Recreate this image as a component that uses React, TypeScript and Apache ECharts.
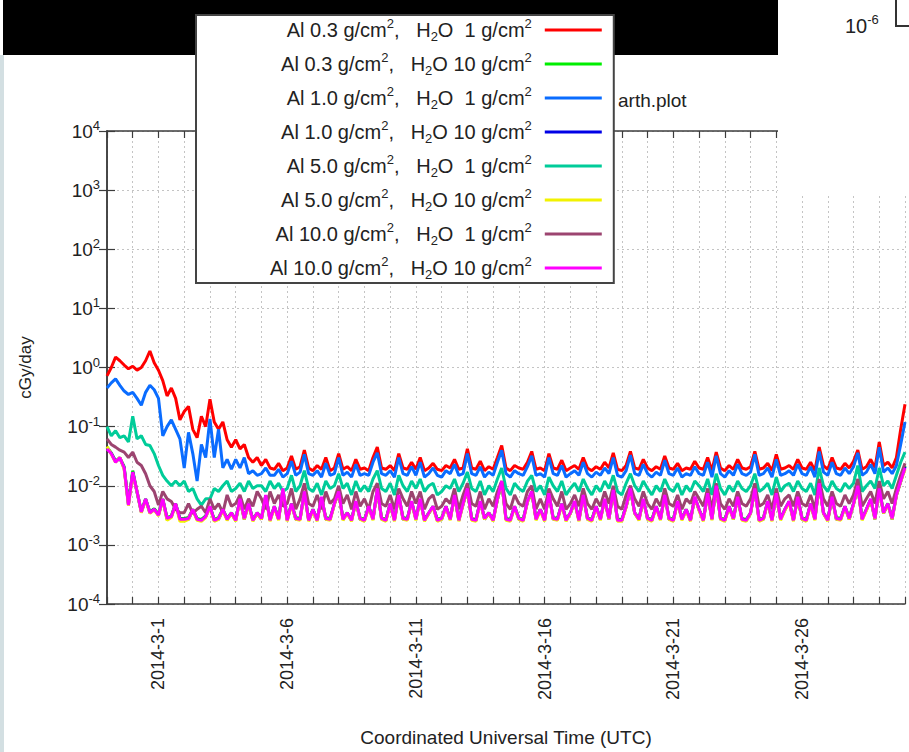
import React, { useEffect, useRef } from "react";
import * as echarts from "echarts";

const FONT = "'Liberation Sans', Arial, Helvetica, sans-serif";

// x axis: days counted from 2014-02-27 00:00 UTC
const xMinDay = 0;
const xMaxDay = 31;
const xTickLabelDays = [2, 7, 12, 17, 22, 27];
const xTickLabels = ["2014-3-1", "2014-3-6", "2014-3-11", "2014-3-16", "2014-3-21", "2014-3-26"];
const yExponents = [-4, -3, -2, -1, 0, 1, 2, 3, 4];

const alThickness = ["0.3", "0.3", "1.0", "1.0", "5.0", "5.0", "10.0", "10.0"];
const h2oThickness = ["1", "10", "1", "10", "1", "10", "1", "10"];
const seriesColors = ["#ff0000", "#00ee00", "#0a6cff", "#0000e6", "#00cc99", "#f2f200", "#9c4470", "#ff00ff"];
const seriesNames = alThickness.map((a, i) => `Al ${a} g/cm², H₂O ${h2oThickness[i]} g/cm²`);

const stepDays = 1 / 6; // 4-hour samples

// cGy/day
const al03h2o1 = [
  .72, 1.0, 1.5, 1.3, 1.1, .95,
  1.05, .9, 1.0, 1.3, 1.9, 1.2,
  .9, .6, .33, .45, .3, .13,
  .18, .22, .09, .065, .15, .1,
  .29, .12, .09, .12, .06, .045,
  .06, .042, .05, .03, .025, .03,
  .022, .028, .02, .019, .024, .018,
  .02, .032, .019, .021, .04, .02,
  .018, .022, .019, .03, .018, .02,
  .035, .019, .021, .018, .028, .019,
  .02, .018, .03, .045, .02, .019,
  .022, .018, .035, .02, .019, .025,
  .019, .03, .018, .02, .024, .019,
  .018, .022, .02, .028, .019, .02,
  .042, .02, .019, .026, .018, .021,
  .019, .03, .048, .02, .018, .022,
  .02, .019, .025, .038, .019, .02,
  .018, .035, .02, .019, .027, .018,
  .02, .022, .019, .03, .02, .018,
  .021, .019, .025, .02, .036, .019,
  .018, .022, .038, .02, .019, .028,
  .02, .018, .021, .019, .032, .02,
  .019, .024, .018, .02, .019, .026,
  .02, .019, .03, .018, .037, .02,
  .018, .022, .019, .028, .02, .019,
  .021, .038, .019, .02, .024, .018,
  .034, .019, .02, .022, .019, .028,
  .02, .019, .025, .018, .045, .022,
  .019, .03, .02, .019, .024, .02,
  .026, .04, .019, .021, .028, .02,
  .055, .022, .025, .02, .03, .09, .24,
];

const al03h2o10 = [
  .045, .036, .026, .03, .021, .005,
  .018, .008, .0037, .006, .0036, .0041,
  .0033, .006, .0029, .0031, .005, .0028,
  .0028, .0029, .004, .0028, .0027, .0031,
  .0045, .0027, .0029, .004, .0028, .0035,
  .0027, .0058, .0029, .005, .0027, .0035,
  .0029, .0068, .0027, .0045, .0028, .0085,
  .0027, .005, .0029, .0028, .0078, .0027,
  .004, .0027, .0063, .0029, .0028, .005,
  .0078, .0028, .0035, .0027, .0054, .0029,
  .0027, .0045, .0028, .0085, .0029, .0027,
  .005, .0027, .0068, .0029, .0028, .0054,
  .0028, .0058, .0027, .0035, .0045, .0027,
  .0029, .0045, .0028, .0068, .0027, .005,
  .0085, .0028, .0027, .0054, .0029, .0035,
  .0027, .0058, .0115, .0028, .0027, .0045,
  .0029, .0027, .0054, .0078, .0028, .004,
  .0027, .0073, .0029, .0028, .005, .0027,
  .0035, .0054, .0027, .0068, .0029, .0027,
  .0045, .0028, .0058, .0029, .0082, .0027,
  .0027, .0045, .0085, .0035, .0028, .0058,
  .0029, .0027, .0045, .0028, .0068, .0029,
  .0027, .0054, .0028, .004, .0027, .0063,
  .004, .0027, .0073, .0028, .0095, .0029,
  .0027, .0045, .0029, .0063, .0028, .0027,
  .0035, .0085, .0027, .0029, .0054, .0027,
  .0073, .0028, .004, .0054, .0027, .0063,
  .0029, .0027, .005, .0028, .0105, .0035,
  .0027, .0063, .0029, .0028, .0045, .0029,
  .005, .0095, .0028, .004, .0058, .0029,
  .009, .0036, .005, .0029, .007, .012, .022,
];

const al10h2o1 = [
  .45, .55, .64, .5, .4, .35,
  .38, .3, .23, .38, .5, .42,
  .3, .07, .1, .13, .09, .062,
  .02, .08, .035, .012, .05, .03,
  .135, .03, .09, .02, .028, .019,
  .028, .02, .03, .016, .018, .015,
  .016, .02, .015, .015, .019, .014,
  .016, .026, .015, .017, .034, .016,
  .015, .018, .014, .024, .015, .016,
  .03, .015, .017, .014, .023, .015,
  .016, .015, .025, .036, .016, .015,
  .018, .014, .03, .016, .015, .021,
  .015, .025, .014, .016, .02, .015,
  .014, .018, .016, .023, .015, .016,
  .035, .016, .015, .021, .014, .017,
  .015, .025, .04, .016, .014, .018,
  .016, .015, .021, .032, .015, .016,
  .014, .03, .016, .015, .022, .014,
  .016, .018, .015, .025, .016, .014,
  .017, .015, .02, .016, .03, .015,
  .014, .018, .033, .016, .015, .023,
  .016, .014, .017, .015, .027, .016,
  .015, .02, .014, .016, .015, .021,
  .016, .015, .025, .014, .032, .016,
  .014, .018, .015, .023, .016, .015,
  .017, .034, .015, .016, .02, .014,
  .028, .015, .016, .018, .015, .023,
  .016, .015, .021, .014, .038, .017,
  .015, .025, .016, .015, .02, .016,
  .021, .036, .015, .017, .023, .016,
  .045, .017, .02, .016, .022, .05, .12,
];

const al10h2o10 = [
  .044, .035, .026, .029, .02, .0048,
  .017, .0078, .0036, .0059, .0035, .004,
  .0032, .0059, .0027, .003, .0049, .0027,
  .0027, .0027, .0039, .0027, .0026, .003,
  .0044, .0026, .0027, .0039, .0027, .0034,
  .0026, .0059, .0027, .0049, .0026, .0034,
  .0027, .0069, .0026, .0044, .0027, .0088,
  .0026, .0049, .0027, .0027, .0079, .0026,
  .0039, .0026, .0064, .0027, .0027, .0049,
  .0079, .0027, .0034, .0026, .0054, .0027,
  .0026, .0044, .0027, .0088, .0027, .0026,
  .0049, .0026, .0069, .0027, .0027, .0054,
  .0027, .0059, .0026, .0034, .0044, .0026,
  .0027, .0044, .0027, .0069, .0026, .0049,
  .0088, .0027, .0026, .0054, .0027, .0034,
  .0026, .0059, .0118, .0027, .0026, .0044,
  .0027, .0026, .0054, .0079, .0027, .0039,
  .0026, .0074, .0027, .0027, .0049, .0026,
  .0034, .0054, .0026, .0069, .0027, .0026,
  .0044, .0027, .0059, .0027, .0084, .0026,
  .0026, .0044, .0088, .0034, .0027, .0059,
  .0027, .0026, .0044, .0027, .0069, .0027,
  .0026, .0054, .0027, .0039, .0026, .0064,
  .0039, .0026, .0074, .0027, .0098, .0027,
  .0026, .0044, .0027, .0064, .0027, .0026,
  .0034, .0088, .0026, .0027, .0054, .0026,
  .0074, .0027, .0039, .0054, .0026, .0064,
  .0027, .0026, .0049, .0027, .0108, .0034,
  .0026, .0064, .0027, .0027, .0044, .0027,
  .0049, .0098, .0027, .0039, .0059, .0027,
  .0088, .0034, .0049, .0027, .0069, .0118, .021,
];

const al50h2o1 = [
  .1, .07, .085, .065, .07, .055,
  .15, .062, .07, .05, .048, .035,
  .022, .015, .012, .01, .012, .01,
  .012, .008, .009, .006, .0047, .006,
  .006, .009, .008, .01, .012, .008,
  .009, .011, .008, .012, .009, .01,
  .01, .008, .012, .009, .011, .008,
  .009, .015, .008, .01, .018, .009,
  .008, .011, .007, .012, .009, .01,
  .016, .009, .011, .007, .012, .008,
  .01, .008, .013, .018, .009, .008,
  .011, .007, .015, .01, .008, .012,
  .009, .013, .008, .01, .011, .007,
  .008, .01, .009, .013, .008, .011,
  .017, .009, .008, .012, .007, .01,
  .008, .013, .02, .009, .007, .011,
  .009, .008, .012, .015, .008, .01,
  .007, .014, .01, .008, .012, .007,
  .009, .011, .008, .013, .009, .007,
  .01, .008, .012, .009, .015, .008,
  .007, .011, .016, .01, .008, .012,
  .009, .007, .01, .008, .013, .009,
  .008, .011, .007, .01, .008, .012,
  .01, .008, .013, .007, .016, .009,
  .007, .01, .008, .012, .009, .008,
  .01, .016, .008, .009, .011, .007,
  .014, .008, .01, .011, .008, .012,
  .009, .008, .011, .007, .02, .01,
  .008, .012, .009, .008, .011, .009,
  .011, .022, .008, .01, .012, .009,
  .02, .01, .012, .009, .015, .025, .037,
];

const al50h2o10 = [
  .046, .034, .025, .03, .019, .0046,
  .016, .0079, .0035, .0058, .0034, .0039,
  .0031, .0058, .0026, .0029, .0048, .0025,
  .0025, .0027, .0039, .0026, .0025, .0029,
  .0043, .0025, .0027, .0038, .0026, .0034,
  .0025, .0058, .0027, .0048, .0025, .0034,
  .0027, .0068, .0025, .0043, .0026, .0087,
  .0025, .0048, .0027, .0026, .0078, .0025,
  .0038, .0025, .0063, .0027, .0026, .0048,
  .0078, .0026, .0034, .0025, .0053, .0027,
  .0025, .0043, .0026, .0087, .0027, .0025,
  .0048, .0025, .0068, .0027, .0026, .0053,
  .0026, .0058, .0025, .0034, .0043, .0025,
  .0027, .0043, .0026, .0068, .0025, .0048,
  .0087, .0026, .0025, .0053, .0027, .0034,
  .0025, .0058, .0117, .0026, .0025, .0043,
  .0027, .0025, .0053, .0078, .0026, .0038,
  .0025, .0073, .0027, .0026, .0048, .0025,
  .0034, .0053, .0025, .0068, .0027, .0025,
  .0043, .0026, .0058, .0027, .0083, .0025,
  .0025, .0043, .0087, .0034, .0026, .0058,
  .0027, .0025, .0043, .0026, .0068, .0027,
  .0025, .0053, .0026, .0038, .0025, .0063,
  .0038, .0025, .0073, .0026, .0097, .0027,
  .0025, .0043, .0027, .0063, .0026, .0025,
  .0034, .0087, .0025, .0027, .0053, .0025,
  .0073, .0026, .0038, .0053, .0025, .0063,
  .0027, .0025, .0048, .0026, .0107, .0034,
  .0025, .0063, .0027, .0026, .0043, .0027,
  .0048, .0097, .0026, .0038, .0058, .0027,
  .0087, .0034, .0048, .0027, .0068, .0117, .019,
];

const al100h2o1 = [
  .062, .05, .045, .04, .037, .03,
  .037, .025, .022, .016, .01, .008,
  .0047, .008, .006, .0054, .004, .0035,
  .0035, .005, .0034, .004, .0045, .0035,
  .006, .004, .005, .0035, .007, .0045,
  .005, .007, .004, .006, .0045, .008,
  .006, .004, .008, .005, .007, .0045,
  .005, .009, .004, .006, .011, .005,
  .0045, .007, .004, .008, .005, .006,
  .01, .005, .007, .004, .008, .0045,
  .006, .004, .008, .011, .005, .0045,
  .007, .004, .009, .006, .0045, .008,
  .005, .008, .004, .006, .007, .004,
  .0045, .006, .005, .009, .004, .007,
  .011, .005, .0045, .008, .004, .006,
  .0045, .008, .012, .005, .004, .007,
  .005, .0045, .008, .01, .004, .006,
  .004, .009, .006, .0045, .008, .004,
  .005, .007, .0045, .009, .005, .004,
  .006, .0045, .008, .005, .01, .0045,
  .004, .007, .01, .006, .0045, .008,
  .005, .004, .006, .0045, .009, .005,
  .0045, .007, .004, .006, .005, .008,
  .006, .0045, .009, .004, .011, .005,
  .004, .006, .0045, .008, .005, .0045,
  .006, .011, .0045, .005, .007, .004,
  .009, .0045, .006, .007, .0045, .008,
  .005, .0045, .007, .004, .013, .006,
  .0045, .008, .005, .0045, .007, .005,
  .007, .013, .0045, .006, .008, .005,
  .012, .006, .008, .005, .009, .015, .024,
];

const al100h2o10 = [
  .042, .035, .025, .03, .02, .0047,
  .017, .008, .0036, .006, .0035, .004,
  .0032, .006, .0028, .003, .005, .0027,
  .0027, .0028, .004, .0027, .0026, .003,
  .0045, .0026, .0028, .004, .0027, .0035,
  .0026, .006, .0028, .005, .0026, .0035,
  .0028, .007, .0026, .0045, .0027, .009,
  .0026, .005, .0028, .0027, .008, .0026,
  .004, .0026, .0065, .0028, .0027, .005,
  .008, .0027, .0035, .0026, .0055, .0028,
  .0026, .0045, .0027, .009, .0028, .0026,
  .005, .0026, .007, .0028, .0027, .0055,
  .0027, .006, .0026, .0035, .0045, .0026,
  .0028, .0045, .0027, .007, .0026, .005,
  .009, .0027, .0026, .0055, .0028, .0035,
  .0026, .006, .012, .0027, .0026, .0045,
  .0028, .0026, .0055, .008, .0027, .004,
  .0026, .0075, .0028, .0027, .005, .0026,
  .0035, .0055, .0026, .007, .0028, .0026,
  .0045, .0027, .006, .0028, .0085, .0026,
  .0026, .0045, .009, .0035, .0027, .006,
  .0028, .0026, .0045, .0027, .007, .0028,
  .0026, .0055, .0027, .004, .0026, .0065,
  .004, .0026, .0075, .0027, .01, .0028,
  .0026, .0045, .0028, .0065, .0027, .0026,
  .0035, .009, .0026, .0028, .0055, .0026,
  .0075, .0027, .004, .0055, .0026, .0065,
  .0028, .0026, .005, .0027, .011, .0035,
  .0026, .0065, .0028, .0027, .0045, .0028,
  .005, .01, .0027, .004, .006, .0028,
  .009, .0035, .005, .0028, .007, .012, .02,
];

const seriesValues = [al03h2o1, al03h2o10, al10h2o1, al10h2o10, al50h2o1, al50h2o10, al100h2o1, al100h2o10];

const AXIS_COLOR = "#3c3c3c";
const TEXT_COLOR = "#222";
const GRID_LINE = { color: "#c4c4c4", width: 1, type: [2, 3] as number[] };

function legendLabel(name: string): string {
  const i = seriesNames.indexOf(name);
  const nb = "\u00a0";
  const h = h2oThickness[i].length === 1 ? nb + nb + h2oThickness[i] : nb + h2oThickness[i];
  return `{n|Al ${alThickness[i]} g/cm}{p|2}{n|,${nb}${nb}${nb}H}{d|2}{n|O${h} g/cm}{p|2}`;
}

export default function App() {
  const ref = useRef<HTMLDivElement>(null);
  useEffect(() => {
    const chart = echarts.init(ref.current as HTMLDivElement, null, { renderer: "svg" });
    const series = seriesValues.map((vals, s) => ({
      name: seriesNames[s],
      type: "line",
      xAxisIndex: 0,
      yAxisIndex: 0,
      data: vals.map((v, i) => [xMinDay + i * stepDays, v]),
      symbol: "none",
      silent: true,
      lineStyle: { color: seriesColors[s], width: 3 },
      itemStyle: { color: seriesColors[s] },
      z: 2,
    }));
    const option: any = {
      animation: false,
      backgroundColor: "#ffffff",
      textStyle: { fontFamily: FONT },
      title: {
        text: "arth.plot",
        left: 618,
        top: 91,
        padding: 0,
        textStyle: { fontSize: 19, fontWeight: "normal", color: TEXT_COLOR, fontFamily: FONT },
      },
      grid: { left: 107, right: 4, top: 131, bottom: 146, containLabel: false },
      legend: {
        data: seriesNames,
        orient: "vertical",
        left: 196,
        top: 15,
        align: "right",
        icon: "rect",
        itemWidth: 57,
        itemHeight: 3,
        itemGap: 8,
        padding: [2, 12, 2, 74],
        backgroundColor: "#ffffff",
        borderColor: "#444",
        borderWidth: 2,
        borderRadius: 0,
        selectedMode: false,
        formatter: legendLabel,
        textStyle: {
          padding: [0, 8, 0, 0],
          color: TEXT_COLOR,
          rich: {
            n: { fontSize: 20, lineHeight: 26, fontFamily: FONT, color: TEXT_COLOR, align: "right" },
            p: { fontSize: 13, lineHeight: 13, verticalAlign: "top", fontFamily: FONT, color: TEXT_COLOR, align: "right" },
            d: { fontSize: 13, lineHeight: 13, verticalAlign: "bottom", fontFamily: FONT, color: TEXT_COLOR, align: "right" },
          },
        },
      },
      xAxis: [
        {
          type: "value",
          position: "bottom",
          min: xMinDay,
          max: xMaxDay,
          interval: 1,
          name: "Coordinated Universal Time (UTC)",
          nameLocation: "middle",
          nameGap: 124,
          nameTextStyle: { fontSize: 19, color: TEXT_COLOR, fontFamily: FONT },
          axisLine: { lineStyle: { color: AXIS_COLOR, width: 1.5 } },
          axisTick: { inside: true, length: 7, lineStyle: { color: AXIS_COLOR, width: 1.2 } },
          axisLabel: {
            rotate: 90,
            margin: 14,
            fontSize: 18,
            color: TEXT_COLOR,
            fontFamily: FONT,
            formatter: (v: number) => {
              const k = xTickLabelDays.indexOf(Math.round(v));
              return k >= 0 ? xTickLabels[k] : "";
            },
          },
          splitLine: { show: true, lineStyle: GRID_LINE },
        },
        {
          type: "value",
          position: "top",
          min: xMinDay,
          max: xMaxDay,
          interval: 1,
          axisLine: { lineStyle: { color: AXIS_COLOR, width: 1.5 } },
          axisTick: { inside: true, length: 7, lineStyle: { color: AXIS_COLOR, width: 1.2 } },
          axisLabel: { show: false },
          splitLine: { show: false },
        },
      ],
      yAxis: [
        {
          type: "log",
          logBase: 10,
          position: "left",
          min: 1e-4,
          max: 1e4,
          name: "cGy/day",
          nameLocation: "middle",
          nameGap: 73,
          nameTextStyle: { fontSize: 17, color: TEXT_COLOR, fontFamily: FONT },
          axisLine: { show: true, lineStyle: { color: AXIS_COLOR, width: 1.5 } },
          axisTick: { show: true, inside: true, length: 8, lineStyle: { color: AXIS_COLOR, width: 1.2 } },
          minorTick: { show: false },
          axisLabel: {
            margin: 7,
            color: TEXT_COLOR,
            formatter: (v: number) => {
              const e = Math.round(Math.log10(v));
              return yExponents.indexOf(e) >= 0 ? `{b|10}{s|${e}}` : "";
            },
            rich: {
              b: { fontSize: 19, lineHeight: 24, fontFamily: FONT, color: TEXT_COLOR },
              s: { fontSize: 13, lineHeight: 13, verticalAlign: "top", fontFamily: FONT, color: TEXT_COLOR },
            },
          },
          splitLine: { show: true, lineStyle: GRID_LINE },
        },
        {
          type: "log",
          logBase: 10,
          position: "right",
          min: 1e-4,
          max: 1e4,
          axisLine: { show: true, lineStyle: { color: AXIS_COLOR, width: 1.5 } },
          axisTick: { show: true, inside: true, length: 8, lineStyle: { color: AXIS_COLOR, width: 1.2 } },
          minorTick: { show: false },
          axisLabel: { show: false },
          splitLine: { show: false },
        },
      ],
      graphic: {
        elements: [
          { type: "rect", z: 3, shape: { x: 3, y: 0, width: 775, height: 55 }, style: { fill: "#000000" }, silent: true },
          { type: "rect", z: 30, shape: { x: 778, y: 0, width: 131, height: 196 }, style: { fill: "#ffffff" }, silent: true },
          { type: "rect", z: 30, shape: { x: 0, y: 55, width: 4, height: 697 }, style: { fill: "#d3dfe2" }, silent: true },
          {
            type: "polyline",
            z: 31,
            shape: { points: [[896, 0], [896, 26], [909, 26]] },
            style: { stroke: "#333", lineWidth: 2, fill: null },
            silent: true,
          },
          {
            type: "text",
            z: 31,
            x: 845,
            y: 13,
            style: {
              text: "{b|10}{s|-6}",
              rich: {
                b: { fontSize: 20, lineHeight: 26, fontFamily: FONT, fill: TEXT_COLOR },
                s: { fontSize: 13, lineHeight: 13, verticalAlign: "top", fontFamily: FONT, fill: TEXT_COLOR },
              },
            },
            silent: true,
          },
        ],
      },
      series,
    };
    chart.setOption(option);
    return () => chart.dispose();
  }, []);
  return <div ref={ref} style={{ position: "fixed", left: 0, top: 0, width: 909, height: 752 }} />;
}
